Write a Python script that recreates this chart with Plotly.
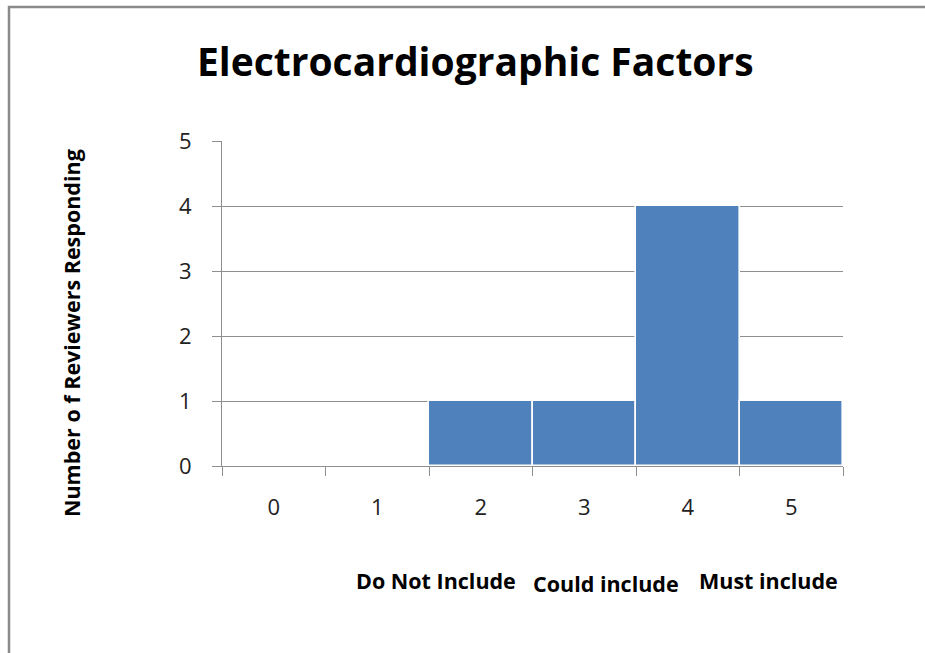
import plotly.graph_objects as go

# Ratings on the 0-5 scale and how many reviewers chose each
ratings = ["0", "1", "2", "3", "4", "5"]
reviewer_counts = [0, 0, 1, 1, 4, 1]
y_ticks = [0, 1, 2, 3, 4, 5]

chart_title = "Electrocardiographic Factors"
y_title = "Number o f Reviewers Responding"
scale_labels = ["Do Not Include", "Could include", "Must include"]

W, H = 925, 653
# plot area in pixels
PL, PR, PT, PB = 222, 843, 141, 466


def px_x(px):
    return (px - PL) / (PR - PL)


def px_y(py):
    return (PB - py) / (PB - PT)


FONT = "Open Sans"
BAR = "#4F81BD"
GRID = "#8E8E8E"

fig = go.Figure(
    go.Bar(
        x=ratings,
        y=reviewer_counts,
        marker=dict(color=BAR, line=dict(color="white", width=1.6)),
        hoverinfo="x+y",
    )
)

fig.update_layout(
    width=W,
    height=H,
    margin=dict(l=PL, r=W - PR, t=PT, b=H - PB),
    paper_bgcolor="white",
    plot_bgcolor="white",
    bargap=0,
    showlegend=False,
    font=dict(family=FONT, color="#1a1a1a"),
)

fig.update_xaxes(
    type="category",
    categoryorder="array",
    categoryarray=ratings,
    range=[-0.5, 5.5],
    showgrid=False,
    showline=True,
    linecolor=GRID,
    linewidth=1.2,
    ticks="outside",
    tickson="boundaries",
    ticklen=9,
    tickcolor=GRID,
    tickwidth=1.2,
    tickfont=dict(size=22, family=FONT, color="#222"),
    ticklabelstandoff=21,
    zeroline=False,
)

fig.update_yaxes(
    range=[0, 5],
    tickvals=y_ticks,
    showgrid=True,
    gridcolor=GRID,
    gridwidth=1.2,
    showline=True,
    linecolor=GRID,
    linewidth=1.2,
    ticks="outside",
    ticklen=9,
    tickcolor=GRID,
    tickwidth=1.2,
    tickfont=dict(size=22, family=FONT, color="#222"),
    ticklabelstandoff=16,
    zeroline=False,
)

annotations = [
    dict(
        text=f"<b>{chart_title}</b>",
        xref="paper", yref="paper",
        x=px_x(475), y=px_y(60),
        xanchor="center", yanchor="middle",
        showarrow=False,
        font=dict(size=39, family=FONT, color="black"),
    ),
    dict(
        text=f"<b>{y_title}</b>",
        xref="paper", yref="paper",
        x=px_x(71), y=px_y(333),
        xanchor="center", yanchor="middle",
        textangle=-90,
        showarrow=False,
        font=dict(size=21.5, family=FONT, color="black"),
    ),
]

label_pos = [(436, 580), (606, 583), (768, 580)]
for txt, (lx, ly) in zip(scale_labels, label_pos):
    annotations.append(
        dict(
            text=f"<b>{txt}</b>",
            xref="paper", yref="paper",
            x=px_x(lx), y=px_y(ly),
            xanchor="center", yanchor="middle",
            showarrow=False,
            font=dict(size=21.5, family=FONT, color="black"),
        )
    )

fig.update_layout(annotations=annotations)

# chart frame running off the right and bottom edges
fig.add_shape(
    type="rect",
    xref="paper", yref="paper",
    x0=px_x(9), x1=px_x(940),
    y0=px_y(670), y1=px_y(7),
    line=dict(color="#8A8A8A", width=2.5),
    fillcolor="rgba(0,0,0,0)",
    layer="below",
)

fig.write_html("out.html")
